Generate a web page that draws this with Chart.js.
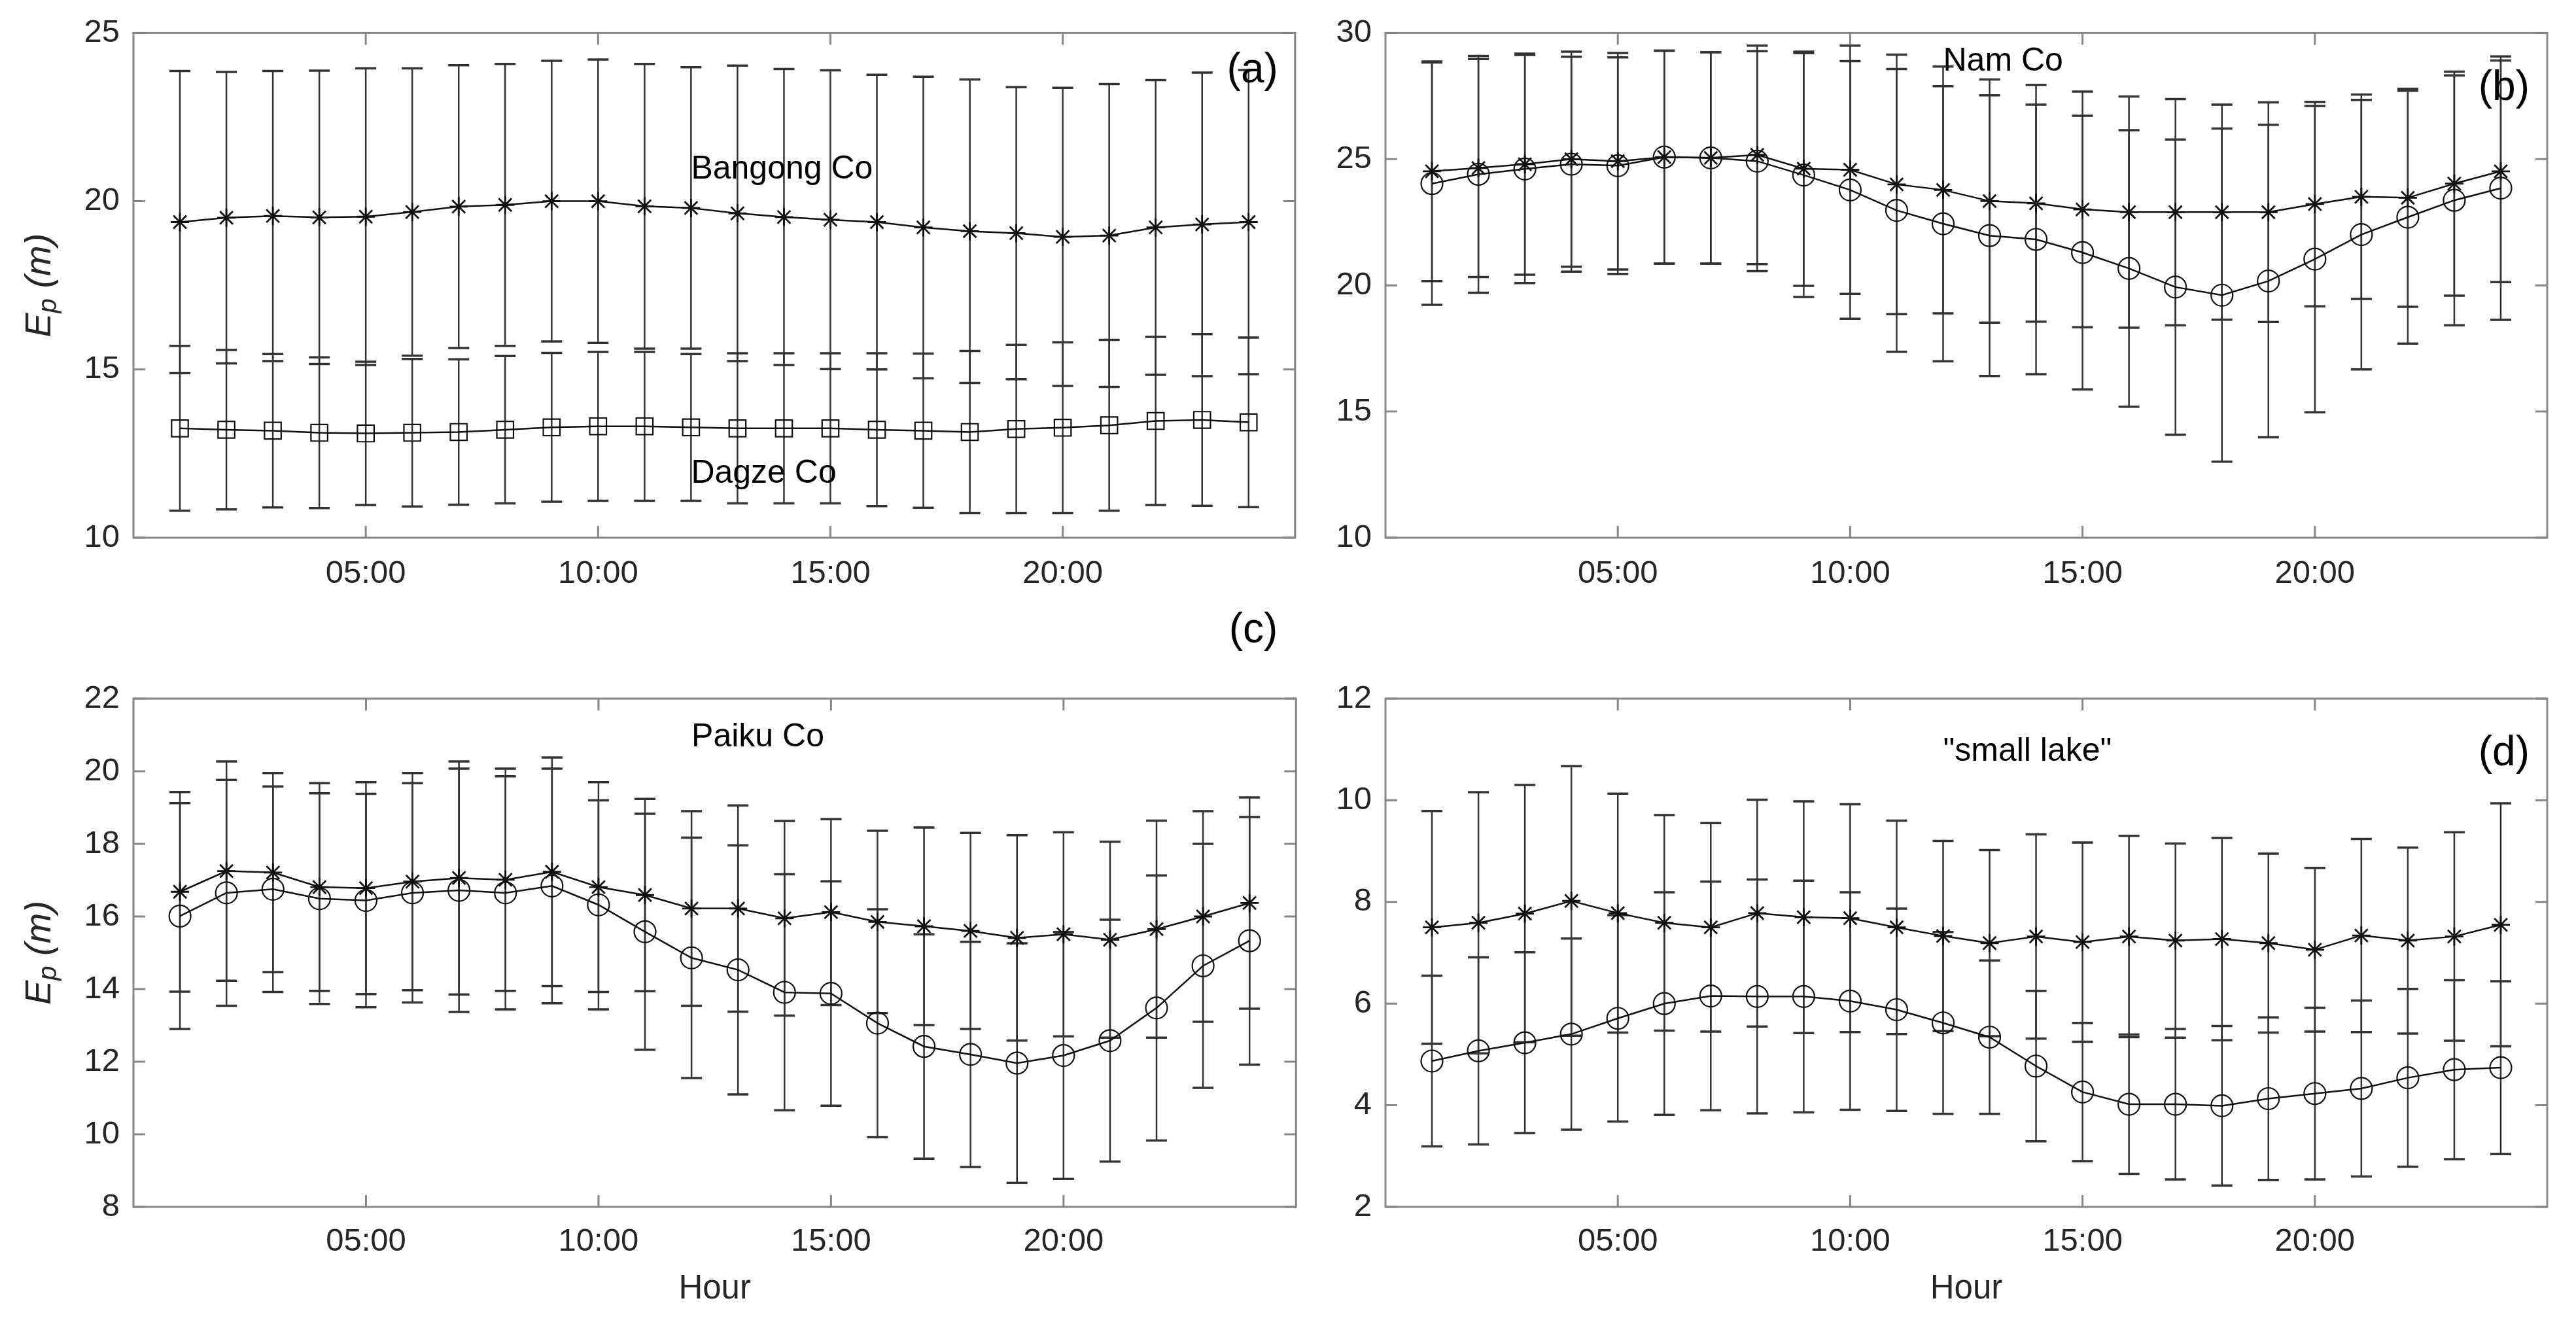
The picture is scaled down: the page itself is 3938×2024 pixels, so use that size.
<!DOCTYPE html>
<html>
<head>
<meta charset="utf-8">
<script src="https://cdn.jsdelivr.net/npm/chart.js@4/dist/chart.umd.min.js"></script>
<style>
  html, body { margin: 0; padding: 0; background: #ffffff; }
  #wrap { position: relative; width: 3938px; height: 2024px; background: #ffffff; overflow: hidden; }
  canvas { position: absolute; }
</style>
</head>
<body>
<div id="wrap">
  <canvas id="pa" width="2000" height="900" style="left:0px;top:0px;width:2000px;height:900px"></canvas>
  <canvas id="pb" width="1938" height="900" style="left:2000px;top:0px;width:1938px;height:900px"></canvas>
  <canvas id="pc" width="2000" height="1104" style="left:0px;top:920px;width:2000px;height:1104px"></canvas>
  <canvas id="pd" width="1938" height="1104" style="left:2000px;top:920px;width:1938px;height:1104px"></canvas>
</div>
<script>
// ---------------- DATA ----------------
const hours = [1,2,3,4,5,6,7,8,9,10,11,12,13,14,15,16,17,18,19,20,21,22,23,24];
const xTickValues = [5, 10, 15, 20];
const xTickLabels = ['05:00', '10:00', '15:00', '20:00'];

// (a) Bangong Co (asterisk) and Dagze Co (square)
const bangongMean = [19.38,19.51,19.56,19.52,19.54,19.68,19.84,19.89,20.00,20.00,19.85,19.80,19.64,19.53,19.45,19.38,19.22,19.11,19.05,18.94,18.98,19.22,19.31,19.38];
const bangongSd   = [4.49,4.33,4.31,4.36,4.41,4.27,4.20,4.19,4.17,4.21,4.23,4.18,4.39,4.40,4.44,4.38,4.48,4.51,4.34,4.43,4.50,4.38,4.51,4.52];
const dagzeMean   = [13.25,13.21,13.18,13.12,13.10,13.12,13.14,13.21,13.28,13.31,13.31,13.28,13.25,13.25,13.25,13.21,13.18,13.14,13.23,13.27,13.34,13.47,13.50,13.43];
const dagzeSd     = [2.45,2.37,2.28,2.24,2.13,2.19,2.16,2.19,2.21,2.21,2.21,2.18,2.23,2.23,2.23,2.27,2.29,2.41,2.50,2.54,2.54,2.50,2.55,2.52];
const yTicksA = [10, 15, 20, 25];

// (b) Nam Co
const namStarMean = [24.52,24.65,24.80,25.00,24.92,25.08,25.05,25.17,24.62,24.58,24.00,23.78,23.34,23.25,23.01,22.90,22.90,22.90,22.90,23.22,23.51,23.47,24.03,24.52];
const namStarSd   = [4.35,4.32,4.38,4.26,4.29,4.22,4.19,4.33,4.64,4.92,5.14,4.89,4.82,4.69,4.67,4.58,4.48,4.26,4.35,4.05,4.05,4.32,4.44,4.39];
const namCircMean = [24.03,24.40,24.61,24.80,24.74,25.08,25.05,24.92,24.37,23.78,22.97,22.44,21.97,21.82,21.30,20.67,19.93,19.61,20.17,21.04,22.01,22.70,23.37,23.85];
const namCircSd   = [4.80,4.69,4.52,4.26,4.29,4.22,4.19,4.36,4.83,5.10,5.60,5.45,5.56,5.34,5.42,5.48,5.85,6.60,6.19,6.07,5.34,5.01,4.95,5.22];
const yTicksB = [10, 15, 20, 25, 30];

// (c) Paiku Co
const paikuStarMean = [16.68,17.25,17.21,16.81,16.78,16.96,17.06,17.01,17.23,16.81,16.59,16.22,16.22,15.95,16.12,15.85,15.73,15.60,15.41,15.51,15.36,15.65,16.00,16.37];
const paikuStarSd   = [2.75,3.02,2.74,2.86,2.92,2.99,3.21,3.06,3.15,2.89,2.65,2.68,2.84,2.68,2.56,2.51,2.72,2.70,2.83,2.81,2.70,2.99,2.90,2.91];
const paikuCircMean = [16.01,16.65,16.75,16.49,16.44,16.65,16.72,16.65,16.84,16.32,15.58,14.86,14.53,13.91,13.88,13.06,12.42,12.20,11.96,12.17,12.58,13.48,14.64,15.33];
const paikuCircSd   = [3.11,3.11,2.83,2.90,2.94,3.02,3.35,3.21,3.23,2.88,3.25,3.31,3.43,3.25,3.09,3.14,3.09,3.10,3.30,3.40,3.33,3.65,3.36,3.41];
const yTicksC = [8, 10, 12, 14, 16, 18, 20, 22];

// (d) "small lake"
const smallStarMean = [7.50,7.59,7.77,8.02,7.78,7.59,7.50,7.78,7.70,7.68,7.50,7.33,7.19,7.32,7.21,7.32,7.24,7.27,7.19,7.06,7.34,7.24,7.32,7.55];
const smallStarSd   = [2.29,2.57,2.53,2.65,2.35,2.12,2.05,2.23,2.28,2.24,2.10,1.87,1.83,2.01,1.96,1.98,1.91,1.99,1.76,1.61,1.90,1.83,2.05,2.39];
const smallCircMean = [4.87,5.07,5.23,5.40,5.71,6.00,6.15,6.14,6.14,6.05,5.88,5.62,5.34,4.77,4.26,4.02,4.02,3.99,4.13,4.23,4.33,4.54,4.70,4.74];
const smallCircSd   = [1.68,1.84,1.78,1.88,2.03,2.19,2.25,2.30,2.28,2.14,1.99,1.79,1.51,1.48,1.36,1.37,1.48,1.57,1.60,1.69,1.73,1.75,1.76,1.70];
const yTicksD = [2, 4, 6, 8, 10, 12];

// ---------------- STYLE ----------------
const FONT = "'Liberation Sans', Arial, Helvetica, sans-serif";
const TICK_COLOR = '#262626';
const FRAME_COLOR = '#878787';
const LINE_COLOR = '#111111';
const ERR_COLOR = '#333333';

function series(mean, sd, style) {
  const base = {
    data: hours.map((h, i) => ({ x: h, y: mean[i] })),
    errors: sd,
    borderColor: LINE_COLOR,
    borderWidth: 2.5,
    backgroundColor: 'rgba(0,0,0,0)',
    pointBorderColor: LINE_COLOR,
    pointBackgroundColor: 'rgba(0,0,0,0)',
    pointBorderWidth: 2.2,
    tension: 0,
    fill: false
  };
  if (style === 'star') { base.pointStyle = 'star'; base.pointRadius = 14; base.pointBorderWidth = 2.8; }
  if (style === 'rect') { base.pointStyle = 'rect'; base.pointRadius = 18; }
  if (style === 'circle') { base.pointStyle = 'circle'; base.pointRadius = 16.5; }
  base.pointHoverRadius = base.pointRadius;
  return base;
}

const errorBarPlugin = {
  id: 'errorBars',
  beforeDatasetsDraw(chart) {
    const { ctx } = chart;
    const x = chart.scales.x, y = chart.scales.y;
    ctx.save();
    ctx.strokeStyle = ERR_COLOR;
    chart.data.datasets.forEach(ds => {
      ds.data.forEach((p, i) => {
        const e = ds.errors[i];
        const px = x.getPixelForValue(p.x);
        const yt = y.getPixelForValue(p.y + e);
        const yb = y.getPixelForValue(p.y - e);
        ctx.lineWidth = 2.5;
        ctx.beginPath();
        ctx.moveTo(px, yt); ctx.lineTo(px, yb);
        ctx.stroke();
        ctx.lineWidth = 3.5;
        ctx.beginPath();
        ctx.moveTo(px - 16, yt); ctx.lineTo(px + 16, yt);
        ctx.moveTo(px - 16, yb); ctx.lineTo(px + 16, yb);
        ctx.stroke();
      });
    });
    ctx.restore();
  }
};

const framePlugin = {
  id: 'frameBox',
  afterDraw(chart) {
    const { ctx, chartArea: a } = chart;
    const x = chart.scales.x, y = chart.scales.y;
    ctx.save();
    ctx.strokeStyle = FRAME_COLOR;
    ctx.lineWidth = 3;
    ctx.beginPath();
    y.ticks.forEach(t => {
      const py = y.getPixelForValue(t.value);
      ctx.moveTo(a.left, py); ctx.lineTo(a.left + 18, py);
      ctx.moveTo(a.right, py); ctx.lineTo(a.right - 18, py);
    });
    x.ticks.forEach(t => {
      const px = x.getPixelForValue(t.value);
      ctx.moveTo(px, a.bottom); ctx.lineTo(px, a.bottom - 18);
      ctx.moveTo(px, a.top); ctx.lineTo(px, a.top + 18);
    });
    ctx.stroke();
    ctx.strokeRect(a.left, a.top, a.right - a.left, a.bottom - a.top);
    ctx.restore();
  }
};

const annotPlugin = {
  id: 'annots',
  afterDraw(chart, args, opts) {
    const { ctx, chartArea: a } = chart;
    const x = chart.scales.x, y = chart.scales.y;
    ctx.save();
    ctx.fillStyle = '#000000';
    ctx.textBaseline = 'middle';
    (opts.texts || []).forEach(t => {
      ctx.font = `50px ${FONT}`;
      ctx.textAlign = 'left';
      ctx.fillText(t.text, x.getPixelForValue(t.x), y.getPixelForValue(t.y));
    });
    if (opts.letter) {
      ctx.font = `64px ${FONT}`;
      ctx.textAlign = 'right';
      ctx.fillText(opts.letter.text, a.right + opts.letter.dx, a.top + opts.letter.dy);
    }
    if (opts.xTitle) {
      ctx.font = `51px ${FONT}`;
      ctx.fillStyle = TICK_COLOR;
      ctx.textAlign = 'center';
      ctx.fillText(opts.xTitle, (a.left + a.right) / 2, a.bottom + 126);
    }
    if (opts.yTitle) {
      ctx.fillStyle = TICK_COLOR;
      ctx.translate(61, (a.top + a.bottom) / 2);
      ctx.rotate(-Math.PI / 2);
      ctx.textAlign = 'left';
      ctx.textBaseline = 'middle';
      const big = `italic 56px ${FONT}`, small = `italic 40px ${FONT}`;
      ctx.font = big;
      const wE = ctx.measureText('E').width;
      ctx.font = small;
      const wp = ctx.measureText('p').width;
      ctx.font = big;
      const wRest = ctx.measureText(' (m)').width;
      const total = wE + wp + wRest;
      let cx = -total / 2;
      ctx.font = big;
      ctx.fillText('E', cx, 0); cx += wE;
      ctx.font = small;
      ctx.fillText('p', cx, 14); cx += wp;
      ctx.font = big;
      ctx.fillText(' (m)', cx, 0);
    }
    ctx.restore();
  }
};

function makeChart(id, datasets, yTicks, layout, annots) {
  const yMin = yTicks[0], yMax = yTicks[yTicks.length - 1];
  return new Chart(document.getElementById(id), {
    type: 'line',
    data: { datasets },
    options: {
      responsive: false,
      animation: false,
      devicePixelRatio: 1,
      layout: { padding: { left: 0, top: layout.top, right: layout.right, bottom: 0 } },
      plugins: { legend: { display: false }, tooltip: { enabled: false }, annots },
      scales: {
        x: {
          type: 'linear', min: 0, max: 25,
          grid: { display: false, drawTicks: false },
          border: { display: false },
          afterBuildTicks: s => { s.ticks = xTickValues.map(v => ({ value: v })); },
          afterFit: s => { s.height = layout.xh; },
          ticks: {
            autoSkip: false, maxRotation: 0, minRotation: 0, padding: layout.xpad,
            color: TICK_COLOR, font: { family: FONT, size: 49 },
            callback: v => { const k = xTickValues.indexOf(v); return k >= 0 ? xTickLabels[k] : ''; }
          }
        },
        y: {
          type: 'linear', min: yMin, max: yMax,
          grid: { display: false, drawTicks: false },
          border: { display: false },
          afterBuildTicks: s => { s.ticks = yTicks.map(v => ({ value: v })); },
          afterFit: s => { s.width = layout.yw; },
          ticks: {
            padding: 21, color: TICK_COLOR, font: { family: FONT, size: 49 },
            callback: v => String(v)
          }
        }
      }
    },
    plugins: [errorBarPlugin, framePlugin, annotPlugin]
  });
}

// (a)
makeChart('pa',
  [series(bangongMean, bangongSd, 'star'), series(dagzeMean, dagzeSd, 'rect')],
  yTicksA,
  { top: 45, right: 17, xh: 78, yw: 204, xpad: 26 },
  { texts: [{ text: 'Bangong Co', x: 12, y: 20.95 }, { text: 'Dagze Co', x: 12, y: 11.91 }],
    letter: { text: '(a)', dx: -26, dy: 58 }, yTitle: true });
// (b)
makeChart('pb',
  [series(namStarMean, namStarSd, 'star'), series(namCircMean, namCircSd, 'circle')],
  yTicksB,
  { top: 45, right: 44, xh: 78, yw: 118, xpad: 26 },
  { texts: [{ text: 'Nam Co', x: 12, y: 28.87 }],
    letter: { text: '(b)', dx: -27, dy: 85 } });
// (c)
makeChart('pc',
  [series(paikuStarMean, paikuStarSd, 'star'), series(paikuCircMean, paikuCircSd, 'circle')],
  yTicksC,
  { top: 148, right: 17, xh: 179, yw: 204, xpad: 24 },
  { texts: [{ text: 'Paiku Co', x: 12, y: 20.94 }],
    letter: { text: '(c)', dx: -28, dy: -104 }, yTitle: true, xTitle: 'Hour' });
// (d)
makeChart('pd',
  [series(smallStarMean, smallStarSd, 'star'), series(smallCircMean, smallCircSd, 'circle')],
  yTicksD,
  { top: 148, right: 44, xh: 179, yw: 118, xpad: 24 },
  { texts: [{ text: '"small lake"', x: 12, y: 10.96 }],
    letter: { text: '(d)', dx: -27, dy: 84 }, xTitle: 'Hour' });
</script>
</body>
</html>
